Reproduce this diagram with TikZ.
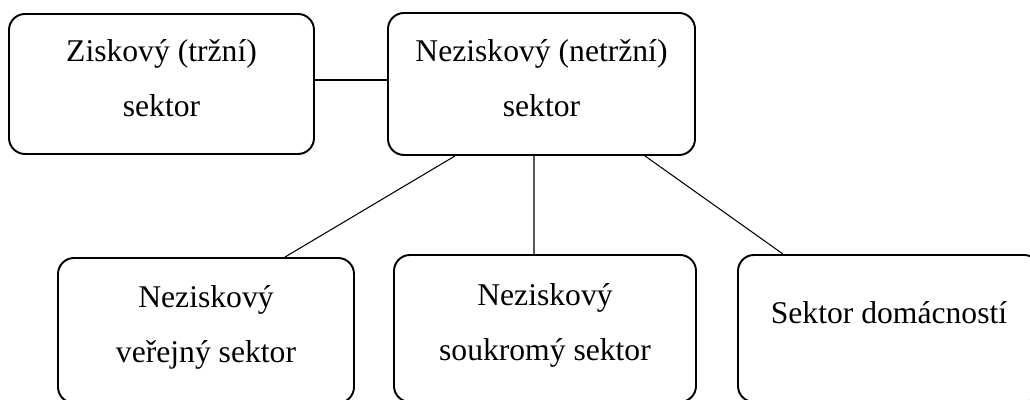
\documentclass[tikz,border=0pt]{standalone}
\usepackage{fontspec}
\setmainfont{Liberation Serif}
\begin{document}
\begin{tikzpicture}[
  sektorbox/.style={draw, line width=1.1pt, rounded corners=0.32cm, align=center, inner sep=0pt, text depth=0.25cm, font=\fontsize{18}{31.2}\selectfont},
  spoj/.style={line width=0.6pt}]
\useasboundingbox (0,0) rectangle (20.6,8);
\clip (0,0) rectangle (20.6,8);
\node[sektorbox, minimum width=6.1cm, minimum height=2.8cm] (zisk) at (3.23,6.32) {Ziskový (tržní)\\sektor};
\node[sektorbox, minimum width=6.14cm, minimum height=2.84cm] (nezisk) at (10.83,6.32) {Neziskový (netržní)\\sektor};
\node[sektorbox, minimum width=5.92cm, minimum height=2.9cm] (verejny) at (4.12,1.39) {Neziskový\\veřejný sektor};
\node[sektorbox, minimum width=6.04cm, minimum height=2.94cm] (soukromy) at (10.9,1.43) {Neziskový\\soukromý sektor};
\node[sektorbox, minimum width=6.04cm, minimum height=2.94cm] (domacnost) at (17.78,1.43) {\raisebox{0.2cm}[\height][\depth]{Sektor domácností}};
\draw[spoj] ([yshift=0.08cm]zisk.east) -- ([yshift=0.08cm]nezisk.west);
\draw[spoj] ([xshift=-1.73cm]nezisk.south) -- ([xshift=1.58cm]verejny.north);
\draw[spoj] ([xshift=-0.15cm]nezisk.south) -- ([xshift=-0.22cm]soukromy.north);
\draw[spoj] ([xshift=2.07cm]nezisk.south) -- ([xshift=-2.12cm]domacnost.north);
\end{tikzpicture}
\end{document}
